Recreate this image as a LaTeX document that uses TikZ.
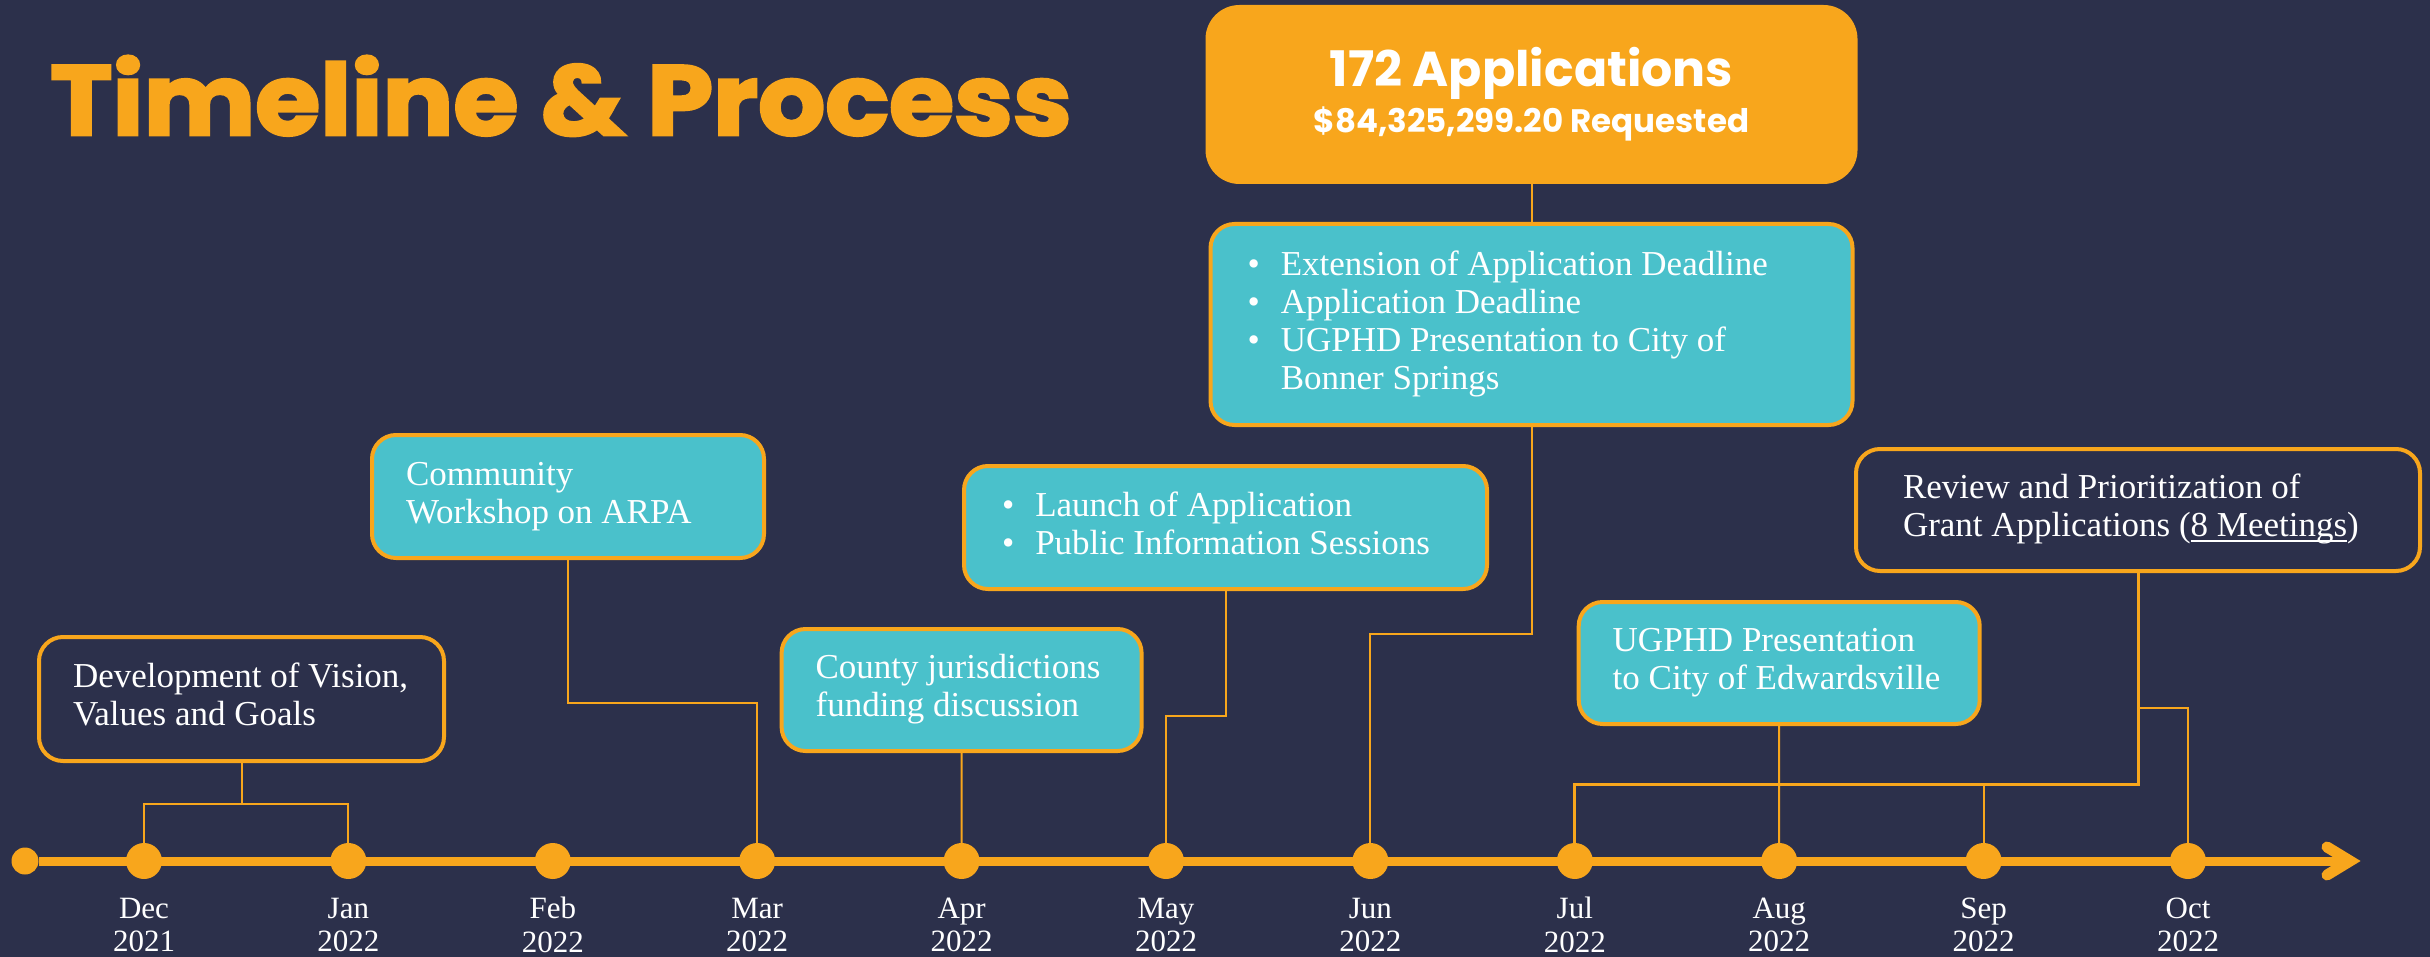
\documentclass[tikz,border=0pt]{standalone}
\usepackage{fontspec}
\setmainfont{Liberation Serif}
\newfontfamily\popfont{Poppins}
\newfontfamily\poptitle{Poppins}[BoldFeatures={FakeBold=2.6}]
\definecolor{tlnavy}{HTML}{2C304B}
\definecolor{tlorange}{HTML}{F8A61C}
\definecolor{tlteal}{HTML}{4AC1CB}
\newcommand{\boxfont}{\fontsize{35}{38}\selectfont}
\newcommand{\boxlines}[2]{\makebox[#1][l]{\begin{tabular}{@{}l@{}}#2\end{tabular}}}
\newcommand{\bulletlines}[2]{\makebox[#1][l]{\begin{tabular}{@{}l@{\hspace{21pt}}l@{}}#2\end{tabular}}}
\newsavebox{\ulbox}
\newcommand{\lowline}[1]{\sbox{\ulbox}{#1}\rlap{\rule[-5pt]{\wd\ulbox}{1.5pt}}\usebox{\ulbox}}
\tikzstyle{every node}=[font=\boxfont, text=white]
\tikzstyle{title} = [anchor=base west, inner sep=0pt, text=tlorange, xscale=1.065, transform shape, font=\poptitle\bfseries\fontsize{99}{99}\selectfont]
\tikzstyle{event} = [rectangle, draw=tlorange, line width=4pt, fill=tlteal, rounded corners=24pt, inner xsep=34pt, inner ysep=0pt]
\tikzstyle{plainevent} = [event, fill=tlnavy]
\tikzstyle{total} = [event, fill=tlorange, rounded corners=32pt, inner sep=0pt, align=center, font=\popfont\bfseries\fontsize{32.5}{46}\selectfont]
\tikzstyle{monthdot} = [circle, fill=tlorange, minimum size=36pt, inner sep=0pt, node distance=204.4pt]
\tikzstyle{month} = [align=center, inner sep=0pt, font=\fontsize{31}{33.5}\selectfont, node distance=64pt]
\tikzstyle{link} = [draw=tlorange, line width=2pt]
\tikzstyle{thicklink} = [link, line width=3pt]
\tikzstyle{tline} = [draw=tlorange, line width=9pt]

\begin{document}
\begin{tikzpicture}[x=1pt, y=-1pt]
    \useasboundingbox (0,0) rectangle (2430,957);
    \fill[tlnavy] (0,0) rectangle (2430,957);
    \node [title] (title) at (50,135) {Timeline \& Process};
    % Place dots
    \node [monthdot, minimum size=27pt] (tlstart) at (25,861) {};
    \node [monthdot] (dec) at (144,861) {};
    \node [monthdot, right of=dec] (jan) {};
    \node [monthdot, right of=jan] (feb) {};
    \node [monthdot, right of=feb] (mar) {};
    \node [monthdot, right of=mar] (apr) {};
    \node [monthdot, right of=apr] (may) {};
    \node [monthdot, right of=may] (jun) {};
    \node [monthdot, right of=jun] (jul) {};
    \node [monthdot, right of=jul] (aug) {};
    \node [monthdot, right of=aug] (sep) {};
    \node [monthdot, right of=sep] (oct) {};
    \coordinate (tlend) at (2350,861);
    % Month labels
    \node [month, below of=dec] (declabel) {Dec\\2021};
    \node [month, below of=jan] (janlabel) {Jan\\2022};
    \node [month, below of=feb] (feblabel) {Feb\\2022};
    \node [month, below of=mar] (marlabel) {Mar\\2022};
    \node [month, below of=apr] (aprlabel) {Apr\\2022};
    \node [month, below of=may] (maylabel) {May\\2022};
    \node [month, below of=jun] (junlabel) {Jun\\2022};
    \node [month, below of=jul] (jullabel) {Jul\\2022};
    \node [month, below of=aug] (auglabel) {Aug\\2022};
    \node [month, below of=sep] (seplabel) {Sep\\2022};
    \node [month, below of=oct] (octlabel) {Oct\\2022};
    % Place events
    \node [plainevent, minimum height=124pt] (dev) at (241.5,699) {\boxlines{337pt}{Development of Vision,\\Values and Goals}};
    \node [event, minimum height=123pt] (comm) at (568,496.5) {\boxlines{324pt}{Community\\Workshop on ARPA}};
    \node [event, minimum height=122pt] (county) at (961.6,690) {\boxlines{292pt}{County jurisdictions\\funding discussion}};
    \node [event, minimum height=123pt, inner xsep=38pt] (launch) at (1225.5,527.5) {\bulletlines{447pt}{\textbullet & Launch of Application\\ \textbullet & Public Information Sessions}};
    \node [event, minimum height=201pt, inner xsep=37pt] (ext) at (1531.5,324.5) {\bulletlines{568pt}{\textbullet & Extension of Application Deadline\\ \textbullet & Application Deadline\\ \textbullet & UGPHD Presentation to City of\\ & Bonner Springs}};
    \node [total, minimum width=648pt, minimum height=175pt] (apps) at (1531.5,94.5) {{\fontsize{49}{50}\selectfont 172 Applications}\\\$84,325,299.20 Requested};
    \node [event, minimum height=122pt] (edw) at (1779.2,663) {\boxlines{333pt}{UGPHD Presentation\\to City of Edwardsville}};
    \node [plainevent, minimum height=122pt, inner xsep=47pt] (rev) at (2138,510) {\boxlines{470pt}{Review and Prioritization of\\Grant Applications (\lowline{8 Meetings})}};
    % Draw timeline
    \path [tline] (tlstart) -- (tlend);
    \path [tline, line width=11pt, line cap=round, miter limit=10] (tlend) ++(-23,-14) -- (tlend) -- ++(-23,14);
    % Draw edges
    \path [link] (dev.south) -- ++(0,41) coordinate (devjoin) -| (dec.north);
    \path [link] (devjoin) -| (jan.north);
    \path [link] (comm.south) -- ++(0,143) -| (mar.north);
    \path [link] (county.south) -- (apr.north);
    \path [link] (launch.south) -- ++(0,125) -| (may.north);
    \path [link] (apps.south) -- (ext.north);
    \path [link] (ext.south) -- ++(0,207) -| (jun.north);
    \path [link] (edw.south) -- (aug.north);
    \path [link] (rev.south) -- ++(0,135) -| (oct.north);
    \path [thicklink] (rev.south) -- ++(0,211) coordinate (revjoin) -| (jul.north);
    \path [link] (revjoin -| sep) -- (sep.north);
\end{tikzpicture}
\end{document}
